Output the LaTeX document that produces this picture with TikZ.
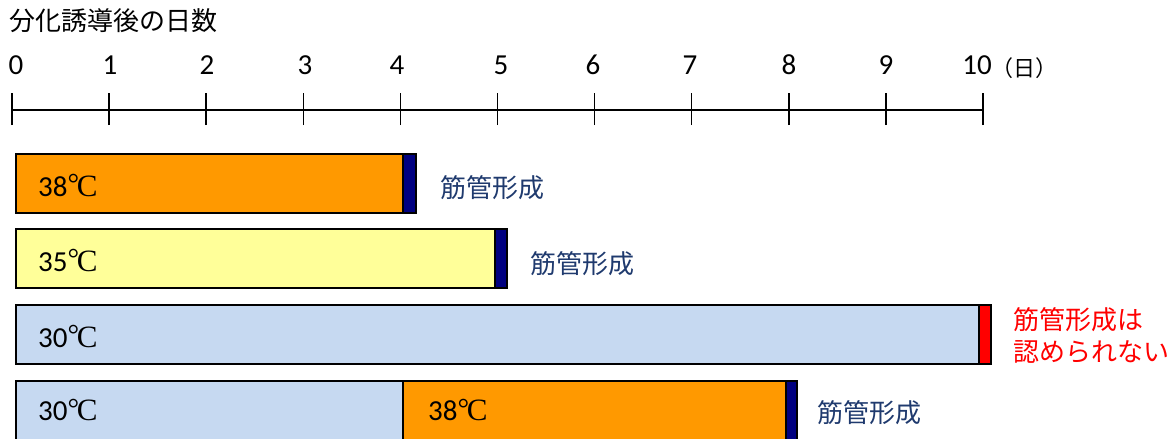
\documentclass[tikz,border=0pt]{standalone}
\usepackage{fontspec}
\setmainfont{Carlito}
\newfontfamily\jp{Noto Sans CJK JP}
\newfontfamily\lserif{Liberation Serif}
\definecolor{orange38}{HTML}{FF9900}
\definecolor{yellow35}{HTML}{FFFF99}
\definecolor{blue30}{HTML}{C6D9F1}
\definecolor{navyend}{HTML}{000080}
\definecolor{redend}{HTML}{FF0000}
\definecolor{labblue}{HTML}{1F3A6E}
\newcommand{\degc}{{\lserif\raisebox{0.1em}{°}\kern-0.08em\fontsize{31}{32}\selectfont C}}
\tikzset{
  bar/.style={draw=black, line width=1.5pt, anchor=north west, inner sep=0pt, outer sep=0pt, minimum height=59pt},
  axisline/.style={line width=1.5pt, black},
  num/.style={font=\fontsize{29}{32}\selectfont, inner sep=0pt},
  temp/.style={font=\fontsize{29}{32}\selectfont, inner sep=0pt, anchor=west},
  jplab/.style={font=\jp\fontsize{26}{28}\selectfont, inner sep=0pt, anchor=west},
}
\begin{document}
\begin{tikzpicture}[x=1pt,y=-1pt]
\useasboundingbox (0,0) rectangle (1171,439);
\clip (0,0) rectangle (1171,439);
% title
\node[jplab] (title) at (9,21) {分化誘導後の日数};
% axis
\coordinate (t0) at (12,110);
\coordinate (t10) at (983,110);
\draw[axisline] (t0) -- (t10);
\foreach \i in {0,...,10}{
  \coordinate (tk\i) at (12+97.1*\i,110);
  \draw[axisline] ([yshift=-15pt]tk\i) -- ([yshift=17pt]tk\i);
}
\foreach \xx/\lab in {16/0,110/1,207/2,305/3,397/4,501/5,593/6,690/7,789/8,886/9,977/10}{
  \node[num] (n\lab) at (\xx,65) {\lab};
}
\node[font=\jp\fontsize{22}{24}\selectfont, inner sep=0pt] (unit) at (1024,68) {（日）};
% bar 1: 38C
\node[bar, fill=orange38, minimum width=387pt] (b1a) at (16,154) {};
\node[bar, fill=navyend, minimum width=13pt] (b1b) at (b1a.north east) {};
\node[temp] (l1) at ([xshift=22pt,yshift=-2pt]b1a.west) {38\degc};
\node[jplab, text=labblue] (r1) at (440,188) {筋管形成};
% bar 2: 35C
\node[bar, fill=yellow35, minimum width=479pt] (b2a) at (16,229) {};
\node[bar, fill=navyend, minimum width=12pt] (b2b) at (b2a.north east) {};
\node[temp] (l2) at ([xshift=22pt,yshift=-2pt]b2a.west) {35\degc};
\node[jplab, text=labblue] (r2) at (530,264) {筋管形成};
% bar 3: 30C
\node[bar, fill=blue30, minimum width=963pt] (b3a) at (16,305) {};
\node[bar, fill=redend, minimum width=12pt] (b3b) at (b3a.north east) {};
\node[temp] (l3) at ([xshift=22pt,yshift=-2pt]b3a.west) {30\degc};
\node[jplab, text=redend] (r3a) at (1013,320) {筋管形成は};
\node[jplab, text=redend] (r3b) at (1013,352) {認められない};
% bar 4: 30C then 38C
\node[bar, fill=blue30, minimum width=387pt, minimum height=62pt] (b4a) at (16,381) {};
\node[bar, fill=orange38, minimum width=383pt, minimum height=62pt] (b4b) at (b4a.north east) {};
\node[bar, fill=navyend, minimum width=11pt, minimum height=62pt] (b4c) at (b4b.north east) {};
\node[temp] (l4a) at (38,410) {30\degc};
\node[temp] (l4b) at (428,410) {38\degc};
\node[jplab, text=labblue] (r4) at (817,413) {筋管形成};
\end{tikzpicture}
\end{document}
